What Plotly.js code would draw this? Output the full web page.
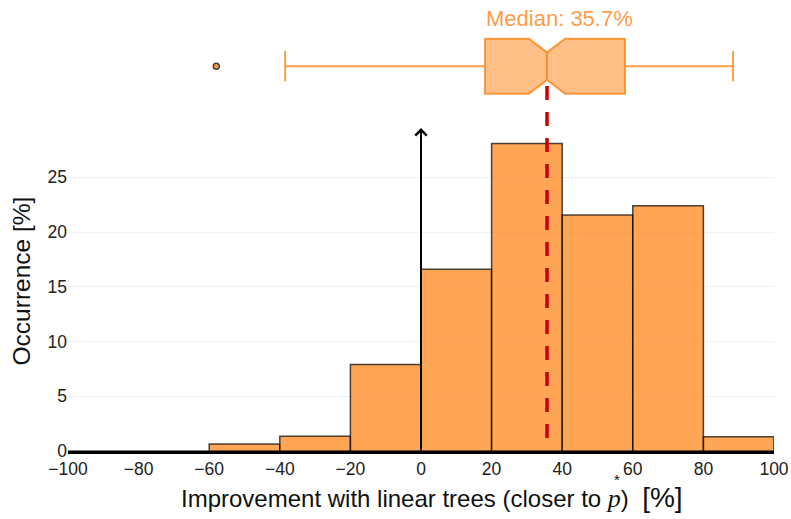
<!DOCTYPE html>
<html>
<head>
<meta charset="utf-8">
<script src="https://cdn.plot.ly/plotly-3.0.1.min.js"></script>
<style>html,body{margin:0;padding:0;background:#fff;}#chart{width:791px;height:519px;}</style>
</head>
<body>
<div id="chart"></div>
<script>
// Histogram bins (left edges, width 20) and occurrence [%]
var binStarts = [-100, -80, -60, -40, -20, 0, 20, 40, 60, 80];
var occurrence = [0, 0, 0.65, 1.35, 7.9, 16.6, 28.1, 21.55, 22.4, 1.3];
var binWidth = 20;

// Box plot summary statistics
var q1 = [18.1];
var median = [35.7];
var q3 = [57.8];
var lowerFence = [-38.5];
var upperFence = [88.4];
var notchSpan = [5.1];
var outliers = [-58];

var xTicks = [-100, -80, -60, -40, -20, 0, 20, 40, 60, 80, 100];
var yTicks = [0, 5, 10, 15, 20, 25];

var font = 'Liberation Sans, Arial, sans-serif';

var centers = binStarts.map(function (s) { return s + binWidth / 2; });

var bars = {
  type: 'bar',
  x: centers,
  y: occurrence,
  width: binWidth,
  marker: {color: 'rgba(255,127,14,0.7)', line: {color: 'rgba(0,0,0,0.7)', width: 1.5}},
  xaxis: 'x', yaxis: 'y',
  hoverinfo: 'x+y',
  showlegend: false
};

var box = {
  type: 'box',
  orientation: 'h',
  y: [0],
  q1: q1, median: median, q3: q3,
  lowerfence: lowerFence, upperfence: upperFence,
  notchspan: notchSpan,
  notched: true,
  boxpoints: false,
  width: 1.18,
  whiskerwidth: 0.55,
  fillcolor: 'rgba(255,127,14,0.5)',
  line: {color: 'rgba(255,127,14,0.75)', width: 2},
  xaxis: 'x', yaxis: 'y2',
  showlegend: false
};

var outs = {
  type: 'scatter', mode: 'markers',
  x: outliers, y: outliers.map(function () { return 0; }),
  marker: {size: 6, color: 'rgba(255,127,14,0.8)', line: {color: '#444', width: 1.5}},
  xaxis: 'x', yaxis: 'y2', showlegend: false
};

var layout = {
  width: 791, height: 519,
  margin: {l: 68, r: 17, t: 0, b: 68},
  paper_bgcolor: '#fff', plot_bgcolor: 'rgba(0,0,0,0)',
  font: {family: font, size: 17, color: '#222'},
  showlegend: false,
  bargap: 0,
  xaxis: {
    range: [-100, 100], tickvals: xTicks,
    showline: true, linecolor: '#000', linewidth: 3,
    showgrid: false, zeroline: false, ticks: '',
    tickfont: {size: 17.5, color: '#222'},
    anchor: 'y'
  },
  yaxis: {
    domain: [0, 0.7185], range: [0, 29.6], tickvals: yTicks,
    showgrid: true, gridcolor: '#edf1f8', gridwidth: 1,
    zeroline: false, showline: false, ticks: '',
    tickfont: {size: 17.5, color: '#222'}
  },
  yaxis2: {
    domain: [0.75, 0.9567], range: [-1, 1], visible: false, anchor: 'x', fixedrange: true
  },
  shapes: [{
    type: 'line', xref: 'x', yref: 'paper',
    x0: median[0], x1: median[0], y0: 0.0288, y1: 0.816,
    line: {color: '#c80000', width: 3.5, dash: '14px,12px'},
    layer: 'above'
  }],
  annotations: [{
    xref: 'x', yref: 'y', axref: 'x', ayref: 'y',
    x: 0, y: 29.5, ax: 0, ay: 0,
    showarrow: true, arrowhead: 4, arrowsize: 1.1, arrowwidth: 2, arrowcolor: '#000', text: ''
  }, {
    xref: 'x', yref: 'paper', x: (q1[0] + q3[0]) / 2 + 1.2, y: 0.96, yanchor: 'middle',
    text: 'Median: ' + median[0] + '%', showarrow: false,
    font: {size: 22, color: 'rgba(255,127,14,0.8)'}
  }, {
    xref: 'paper', yref: 'paper', x: 0.516, y: -0.102, xanchor: 'center', yanchor: 'middle',
    text: 'Improvement with linear trees (closer to <span style="font-family:Liberation Serif,serif;font-style:italic;font-size:26px">p</span>)&nbsp;&nbsp;<span style="font-size:28px">[%]</span>',
    showarrow: false, font: {size: 24, color: '#111'}
  }, {
    xref: 'paper', yref: 'paper', x: -0.0659, y: 0.377, xanchor: 'center', yanchor: 'middle',
    textangle: -90, text: 'Occurrence [%]', showarrow: false, font: {size: 24.5, color: '#111'}
  }, {
    xref: 'paper', yref: 'paper', x: 0.7776, y: -0.0643, xanchor: 'center', yanchor: 'middle',
    text: '*', showarrow: false, font: {size: 15, color: '#111'}
  }]
};

Plotly.newPlot('chart', [bars, box, outs], layout, {displayModeBar: false, staticPlot: true});
</script>
</body>
</html>
